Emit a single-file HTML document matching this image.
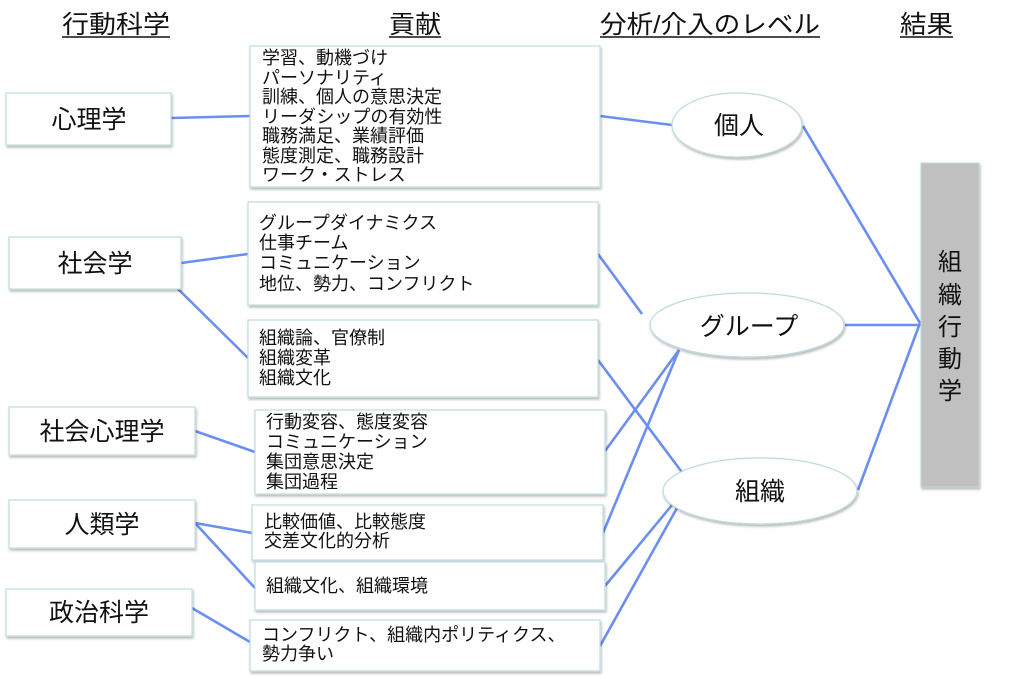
<!DOCTYPE html>
<html><head><meta charset="utf-8"><style>
html,body{margin:0;padding:0;background:#fff;}
svg{display:block;}
text{font-family:"Liberation Sans","Noto Sans CJK JP",sans-serif;fill:#111;}
</style></head><body>
<svg width="1024" height="679" viewBox="0 0 1024 679" xmlns="http://www.w3.org/2000/svg">
<defs>
<filter id="sh" x="-5%" y="-10%" width="110%" height="125%"><feDropShadow dx="1" dy="2" stdDeviation="1.2" flood-color="#000" flood-opacity="0.28"/></filter>
</defs>
<g font-size="25">
<text x="62" y="33" textLength="108" lengthAdjust="spacingAndGlyphs">行動科学</text><line x1="62" y1="37" x2="170" y2="37" stroke="#111" stroke-width="1.5"/>
<text x="389" y="33" textLength="52" lengthAdjust="spacingAndGlyphs">貢献</text><line x1="389" y1="37" x2="441" y2="37" stroke="#111" stroke-width="1.5"/>
<text x="600" y="33" textLength="220" lengthAdjust="spacingAndGlyphs">分析/介入のレベル</text><line x1="600" y1="37" x2="820" y2="37" stroke="#111" stroke-width="1.5"/>
<text x="900" y="33" textLength="53" lengthAdjust="spacingAndGlyphs">結果</text><line x1="900" y1="37" x2="953" y2="37" stroke="#111" stroke-width="1.5"/>
</g>
<g stroke="#6a8ff0" stroke-width="2.6" fill="none">
<line x1="171" y1="118" x2="250" y2="116"/>
<line x1="181" y1="263" x2="248" y2="254"/>
<line x1="172" y1="283" x2="248" y2="358"/>
<line x1="195" y1="431" x2="255" y2="452"/>
<line x1="195" y1="523" x2="252" y2="533"/>
<line x1="195" y1="523" x2="255" y2="588"/>
<line x1="192" y1="608" x2="250" y2="642"/>
<line x1="600" y1="116" x2="672" y2="125"/>
<line x1="598" y1="254" x2="642" y2="314"/>
<line x1="598" y1="360" x2="687" y2="479"/>
<line x1="605" y1="451" x2="679" y2="350"/>
<line x1="603" y1="533" x2="679" y2="350"/>
<line x1="605" y1="586" x2="677" y2="499"/>
<line x1="600" y1="646" x2="682" y2="499"/>
<line x1="803" y1="126" x2="920" y2="323"/>
<line x1="845" y1="325" x2="920" y2="325"/>
<line x1="858" y1="490" x2="920" y2="323"/>
</g>
<g fill="#fff" stroke="#bcdbe0" stroke-width="1.2" filter="url(#sh)">
<rect x="6" y="93" width="165" height="52"/>
<rect x="9" y="237" width="172" height="52"/>
<rect x="9" y="407" width="186" height="48"/>
<rect x="9" y="500" width="186" height="48"/>
<rect x="6" y="589" width="186" height="47"/>
<rect x="250" y="46" width="350" height="141"/>
<rect x="248" y="202" width="350" height="103"/>
<rect x="248" y="320" width="350" height="77"/>
<rect x="255" y="410" width="350" height="84"/>
<rect x="252" y="505" width="351" height="55"/>
<rect x="255" y="562" width="350" height="48"/>
<rect x="250" y="620" width="350" height="51"/>
<ellipse cx="737" cy="125" rx="65" ry="32"/>
<ellipse cx="747" cy="325" rx="97" ry="32"/>
<ellipse cx="760" cy="491" rx="97" ry="33"/>
</g>
<rect x="921" y="163" width="58" height="324" fill="#c0c0c0" stroke="#bcdbe0" stroke-width="1" filter="url(#sh)"/>
<g font-size="25" text-anchor="middle">
<text x="89" y="128">心理学</text>
<text x="95" y="272">社会学</text>
<text x="102" y="440">社会心理学</text>
<text x="102" y="533">人類学</text>
<text x="99" y="621">政治科学</text>
<text x="739" y="134">個人</text>
<text x="749" y="335">グループ</text>
<text x="760" y="500">組織</text>
</g>
<g font-size="24" text-anchor="middle">
<text x="950" y="270">組</text>
<text x="950" y="303">織</text>
<text x="950" y="335">行</text>
<text x="950" y="367">動</text>
<text x="950" y="399">学</text>
</g>
<g font-size="18" font-feature-settings="'palt'">
<text x="262" y="64">学習、動機づけ</text>
<text x="262" y="84">パーソナリティ</text>
<text x="262" y="103">訓練、個人の意思決定</text>
<text x="262" y="123">リーダシップの有効性</text>
<text x="262" y="142">職務満足、業績評価</text>
<text x="262" y="162">態度測定、職務設計</text>
<text x="262" y="181">ワーク・ストレス</text>
<text x="259" y="229">グループダイナミクス</text>
<text x="259" y="249">仕事チーム</text>
<text x="259" y="269">コミュニケーション</text>
<text x="259" y="290">地位、勢力、コンフリクト</text>
<text x="259" y="344">組織論、官僚制</text>
<text x="259" y="364">組織変革</text>
<text x="259" y="384">組織文化</text>
<text x="266" y="428">行動変容、態度変容</text>
<text x="266" y="448">コミュニケーション</text>
<text x="266" y="468">集団意思決定</text>
<text x="266" y="488">集団過程</text>
<text x="264" y="528">比較価値、比較態度</text>
<text x="264" y="547">交差文化的分析</text>
<text x="266" y="592">組織文化、組織環境</text>
<text x="262" y="641">コンフリクト、組織内ポリティクス、</text>
<text x="262" y="660">勢力争い</text>
</g>
</svg>
</body></html>
